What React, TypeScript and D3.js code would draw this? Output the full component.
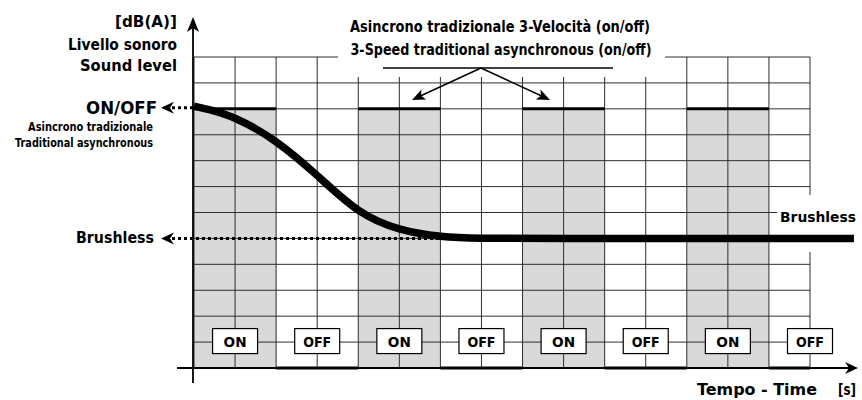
import React from "react";
import * as d3 from "d3";

const W = 862;
const H = 400;

// grid: 15 time columns, 12 level rows
const timeColumns = d3.range(0, 16);
const levelRows = d3.range(0, 13);

// on/off periods of the 3-speed traditional motor
const periodLabels = ["ON", "OFF", "ON", "OFF", "ON", "OFF", "ON", "OFF"];
const periodStarts = [0, 2, 4, 6, 8, 10, 12, 14];
const periodEnds = [2, 4, 6, 8, 10, 12, 14, 15];

// levels
const onOffLevel = 10;
const brushlessLevel = 5;

// brushless soft-start curve (B-spline control values)
const curveTime = [0, 0.3, 1, 2, 3, 4, 5, 6, 7, 8, 16.07];
const curveLevel = [10.1, 10.0, 9.7, 8.8, 7.45, 5.95, 5.3, 5.05, 5.0, 5.0, 5.0];

const FONT = "'DejaVu Sans', sans-serif";

export default function App() {
  const x = d3.scaleLinear().domain([0, 15]).range([194, 810]);
  const y = d3.scaleLinear().domain([0, 12]).range([368, 57]);

  const line = d3
    .line<number>()
    .x((_, i) => x(curveTime[i]))
    .y((d) => y(d))
    .curve(d3.curveBasis);

  const gridColor = "#2e2e2e";
  const x0 = x(0);
  const yAxisX = 193;

  const chevron = (tipX: number, tipY: number, dir: "left" | "up" | "right") => {
    if (dir === "left")
      return `M${tipX},${tipY} L${tipX + 13},${tipY - 6} L${tipX + 9},${tipY} L${tipX + 13},${tipY + 6} Z`;
    if (dir === "right")
      return `M${tipX},${tipY} L${tipX - 13},${tipY - 6} L${tipX - 9},${tipY} L${tipX - 13},${tipY + 6} Z`;
    return `M${tipX},${tipY} L${tipX - 6},${tipY + 15} L${tipX},${tipY + 11} L${tipX + 6},${tipY + 15} Z`;
  };

  const arrowHead = (fx: number, fy: number, tx: number, ty: number) => {
    const ang = Math.atan2(ty - fy, tx - fx);
    const len = 13;
    const wid = 5.5;
    const bx = tx - len * Math.cos(ang);
    const by = ty - len * Math.sin(ang);
    const px = -Math.sin(ang) * wid;
    const py = Math.cos(ang) * wid;
    return `M${tx},${ty} L${bx + px},${by + py} L${bx + 3 * Math.cos(ang)},${by + 3 * Math.sin(ang)} L${bx - px},${by - py} Z`;
  };

  const titleCx = 481;
  const titleLineY = 68;

  return (
    <svg
      width={W}
      height={H}
      style={{ position: "absolute", left: 0, top: 0, background: "#fff" }}
      fontFamily={FONT}
      fontWeight="bold"
    >
      <rect width={W} height={H} fill="#fff" />

      {/* shaded ON columns */}
      {periodLabels.map((p, i) =>
        p === "ON" ? (
          <rect
            key={"sh" + i}
            x={x(periodStarts[i])}
            y={y(onOffLevel)}
            width={x(periodEnds[i]) - x(periodStarts[i])}
            height={y(0) - y(onOffLevel)}
            fill="#d9d9d9"
          />
        ) : null
      )}

      {/* grid */}
      {levelRows.map((r) => (
        <line key={"h" + r} x1={x0} x2={x(15)} y1={y(r)} y2={y(r)} stroke={gridColor} strokeWidth={1} />
      ))}
      {timeColumns.map((c) => (
        <line key={"v" + c} x1={x(c)} x2={x(c)} y1={y(12)} y2={y(0)} stroke={gridColor} strokeWidth={1} />
      ))}

      {/* white mask behind title */}
      <rect x={338} y={0} width={327} height={77} fill="#fff" />
      {/* white mask behind right Brushless label */}
      <rect x={777} y={195} width={85} height={57} fill="#fff" />

      {/* ON/OFF boxes */}
      {periodLabels.map((p, i) => {
        const cx = x(periodStarts[i] + 1);
        const cy = y(1) - 1;
        return (
          <g key={"b" + i}>
            <rect x={cx - 22.5} y={cy - 12.5} width={45} height={25} fill="#fff" stroke="#000" strokeWidth={1.2} />
            <text x={cx} y={cy + 0.5} textAnchor="middle" dominantBaseline="central" fontSize={14.5}
              textLength={p === "ON" ? 23 : 28} lengthAdjust="spacingAndGlyphs">
              {p}
            </text>
          </g>
        );
      })}

      {/* thick ON lines at top, OFF lines at bottom */}
      {periodLabels.map((p, i) => (
        <line
          key={"t" + i}
          x1={x(periodStarts[i])}
          x2={x(periodEnds[i])}
          y1={p === "ON" ? y(onOffLevel) : y(0)}
          y2={p === "ON" ? y(onOffLevel) : y(0)}
          stroke="#000"
          strokeWidth={3}
        />
      ))}

      {/* axes */}
      <line x1={yAxisX} x2={yAxisX} y1={24} y2={383} stroke="#000" strokeWidth={1.8} />
      <path d={chevron(yAxisX, 17, "up")} fill="#000" />
      <line x1={177} x2={850} y1={y(0)} y2={y(0)} stroke="#000" strokeWidth={1.8} />
      <path d={chevron(858, y(0), "right")} fill="#000" />

      {/* dotted reference lines */}
      <line x1={172} x2={193} y1={y(onOffLevel) - 1} y2={y(onOffLevel) - 1} stroke="#000" strokeWidth={3} strokeDasharray="3,3" />
      <path d={chevron(161, y(onOffLevel) - 1, "left")} fill="#000" />
      <line x1={172} x2={485} y1={y(brushlessLevel)} y2={y(brushlessLevel)} stroke="#000" strokeWidth={3} strokeDasharray="3,3" />
      <path d={chevron(161, y(brushlessLevel), "left")} fill="#000" />

      {/* brushless curve */}
      <path d={line(curveLevel) || ""} fill="none" stroke="#000" strokeWidth={7.5} />

      {/* title with arrows */}
      <text x={500} y={27} textAnchor="middle" dominantBaseline="central" fontSize={15} textLength={300} lengthAdjust="spacingAndGlyphs">
        Asincrono tradizionale 3-Velocità (on/off)
      </text>
      <text x={501} y={50} textAnchor="middle" dominantBaseline="central" fontSize={15} textLength={301} lengthAdjust="spacingAndGlyphs">
        3-Speed traditional asynchronous (on/off)
      </text>
      <line x1={383} x2={613} y1={titleLineY} y2={titleLineY} stroke="#000" strokeWidth={1.5} />
      <line x1={titleCx} y1={titleLineY} x2={416} y2={98} stroke="#000" strokeWidth={1.5} />
      <line x1={titleCx} y1={titleLineY} x2={546} y2={98} stroke="#000" strokeWidth={1.5} />
      <path d={arrowHead(titleCx, titleLineY, 412, 100)} fill="#000" />
      <path d={arrowHead(titleCx, titleLineY, 550, 100)} fill="#000" />

      {/* y axis labels */}
      <text x={177} y={22} textAnchor="end" dominantBaseline="central" fontSize={15.5} textLength={62} lengthAdjust="spacingAndGlyphs">
        [dB(A)]
      </text>
      <text x={177} y={45} textAnchor="end" dominantBaseline="central" fontSize={15.5} textLength={109} lengthAdjust="spacingAndGlyphs">
        Livello sonoro
      </text>
      <text x={177} y={66} textAnchor="end" dominantBaseline="central" fontSize={15.5} textLength={97} lengthAdjust="spacingAndGlyphs">
        Sound level
      </text>
      <text x={157} y={y(onOffLevel) - 1} textAnchor="end" dominantBaseline="central" fontSize={17} textLength={71} lengthAdjust="spacingAndGlyphs">
        ON/OFF
      </text>
      <text x={153} y={127} textAnchor="end" dominantBaseline="central" fontSize={12} textLength={125} lengthAdjust="spacingAndGlyphs">
        Asincrono tradizionale
      </text>
      <text x={153} y={143} textAnchor="end" dominantBaseline="central" fontSize={12} textLength={138} lengthAdjust="spacingAndGlyphs">
        Traditional asynchronous
      </text>
      <text x={154} y={y(brushlessLevel)} textAnchor="end" dominantBaseline="central" fontSize={15.5} textLength={78} lengthAdjust="spacingAndGlyphs">
        Brushless
      </text>
      <text x={780} y={217} textAnchor="start" dominantBaseline="central" fontSize={14.5} textLength={76} lengthAdjust="spacingAndGlyphs">
        Brushless
      </text>

      {/* x axis label */}
      <text x={697} y={390} textAnchor="start" dominantBaseline="central" fontSize={15.5} textLength={120} lengthAdjust="spacingAndGlyphs">
        Tempo - Time
      </text>
      <text x={838} y={390} textAnchor="start" dominantBaseline="central" fontSize={15.5} textLength={18} lengthAdjust="spacingAndGlyphs">
        [s]
      </text>
    </svg>
  );
}
